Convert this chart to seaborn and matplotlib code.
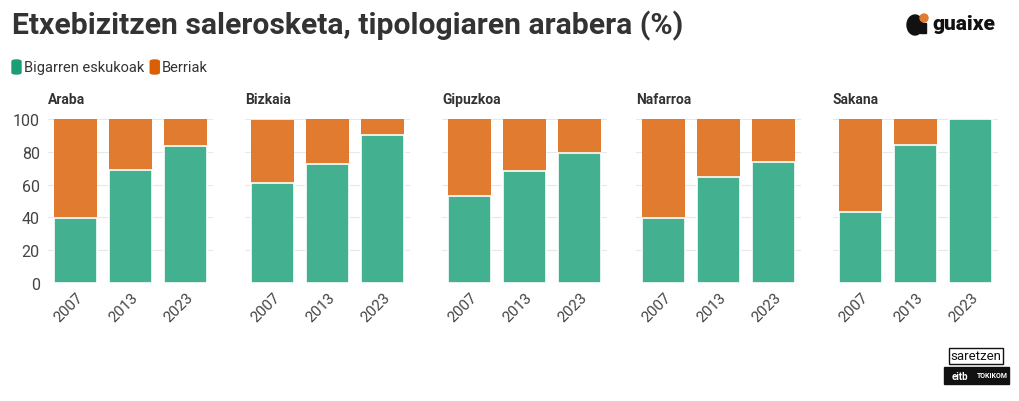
import matplotlib
matplotlib.use("Agg")
import matplotlib.pyplot as plt
import seaborn as sns
import pandas as pd
from matplotlib.patches import FancyBboxPatch, Ellipse, Rectangle

regions = ["Araba", "Bizkaia", "Gipuzkoa", "Nafarroa", "Sakana"]
years = ["2007", "2013", "2023"]
bigarren = {
    "Araba":    [39.8, 68.9, 83.5],
    "Bizkaia":  [60.8, 72.6, 90.2],
    "Gipuzkoa": [53.0, 68.3, 79.3],
    "Nafarroa": [39.8, 64.8, 73.8],
    "Sakana":   [43.3, 84.1, 100.0],
}
total = {
    "Araba":    [100, 100, 100],
    "Bizkaia":  [99.5, 100, 100],
    "Gipuzkoa": [100, 100, 100],
    "Nafarroa": [100, 100, 100],
    "Sakana":   [100, 100, 100],
}
series_labels = ["Bigarren eskukoak", "Berriak"]
yticks = [0, 20, 40, 60, 80, 100]

green_bar = "#43b08f"
orange_bar = "#e07b30"
green_leg = "#1b9e77"
orange_leg = "#d95f02"

sns.set_theme(style="white")
plt.rcParams["font.family"] = ["Roboto", "DejaVu Sans"]

fig = plt.figure(figsize=(10.2, 4.02), dpi=100)
W, H = 1020, 402

lefts = [48, 245, 442, 636, 833]
ax_w = 165
y_top, y_bot = 120, 284

for i, reg in enumerate(regions):
    ax = fig.add_axes([lefts[i] / W, (H - y_bot) / H, ax_w / W, (y_bot - y_top) / H])
    df = pd.DataFrame({"year": years, "total": total[reg], "green": bigarren[reg]})
    sns.barplot(data=df, x="year", y="total", color=orange_bar, saturation=1,
                width=0.79, ax=ax, edgecolor="none")
    sns.barplot(data=df, x="year", y="green", color=green_bar, saturation=1,
                width=0.79, ax=ax, edgecolor="white", linewidth=1.2)
    ax.set_xlim(-0.5, 2.5)
    ax.set_ylim(0, 100)
    ax.set_yticks(yticks)
    ax.grid(axis="y", color="#e8e8e8", linewidth=0.8)
    ax.set_axisbelow(True)
    for s in ax.spines.values():
        s.set_visible(False)
    ax.set_xlabel("")
    ax.set_ylabel("")
    ax.tick_params(axis="x", length=3, color="#e0e0e0", labelsize=11, labelcolor="#444444", pad=2)
    for lab in ax.get_xticklabels():
        lab.set_rotation(45)
        lab.set_ha("right")
        lab.set_rotation_mode("anchor")
    if i == 0:
        ax.tick_params(axis="y", length=0, labelsize=11.5, labelcolor="#444444", pad=6)
    else:
        ax.tick_params(axis="y", length=0, labelleft=False)
    ax.text(0, 1.08, reg, transform=ax.transAxes, fontsize=10, fontweight="bold",
            color="#333333", ha="left", va="bottom")

# title
fig.text(12 / W, 1 - 26 / H, "Etxebizitzen salerosketa, tipologiaren arabera (%)",
         fontsize=21.7, fontweight="bold", color="#333333", ha="left", va="center")

# legend
lx = 12
for lab, col in zip(series_labels, [green_leg, orange_leg]):
    fig.patches.append(FancyBboxPatch((lx / W, (H - 75) / H), 9 / W, 14 / H,
                                      boxstyle="round,pad=0,rounding_size=0.004",
                                      transform=fig.transFigure, color=col, figure=fig))
    t = fig.text((lx + 12) / W, 1 - 68 / H, lab, fontsize=10.5, color="#333333",
                 ha="left", va="center")
    fig.canvas.draw()
    bb = t.get_window_extent()
    lx = bb.x1 + 6

# guaixe logo
fig.patches.append(Ellipse((915 / W, 1 - 26 / H), 16 / W, 20 / H, transform=fig.transFigure,
                           color="#111111", figure=fig))
fig.patches.append(Rectangle((920 / W, (H - 34) / H), 6 / W, 10 / H, transform=fig.transFigure,
                             color="#111111", figure=fig))
fig.patches.append(Ellipse((924 / W, 1 - 19 / H), 8 / W, 8 / H, transform=fig.transFigure,
                           color="#e07b30", figure=fig))
fig.text(932 / W, 1 - 25 / H, "guaixe", fontsize=15, fontweight="black", color="#111111",
         ha="left", va="center")

# saretzen logo
fig.text(976 / W, 1 - 357 / H, "saretzen", fontsize=9.5, color="#111111", ha="center",
         va="center", bbox=dict(boxstyle="square,pad=0.15", fc="white", ec="#111111", lw=1))
fig.patches.append(Rectangle((944 / W, (H - 385) / H), 65 / W, 17 / H, transform=fig.transFigure,
                             color="#111111", figure=fig))
fig.text(960 / W, 1 - 377 / H, "eitb", fontsize=7, fontweight="bold", color="white",
         ha="center", va="center")
fig.text(992 / W, 1 - 376 / H, "TOKIKOM", fontsize=5, fontweight="bold", color="white",
         ha="center", va="center")

fig.savefig("out.png", dpi=100, facecolor="white")
